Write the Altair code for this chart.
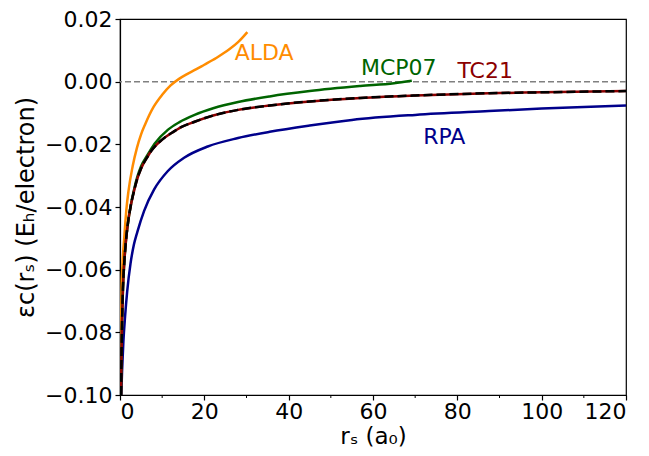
import altair as alt
import pandas as pd

# ---- data ----
rs_tc21 = [0.25, 0.35, 0.5, 0.7, 1.0, 1.4, 1.9, 2.5, 3.4, 4.1, 5.0, 6.6, 7.3, 10.0, 12.9, 14.1,
           17.7, 22.1, 28.0, 35.5, 45.0, 57.0, 70.0, 87.5, 100.0, 120.0]
eps_tc21 = [-0.100, -0.088, -0.076, -0.066, -0.058, -0.051, -0.045, -0.0400, -0.0345, -0.0310,
            -0.0277, -0.0238, -0.0223, -0.0185, -0.0158, -0.0148, -0.0128, -0.0108, -0.0090,
            -0.0076, -0.0063, -0.0052, -0.0044, -0.0037, -0.0034, -0.0030]

rs_exact = rs_tc21
eps_exact = eps_tc21

rs_mcp07 = [0.25, 0.35, 0.5, 0.7, 1.0, 1.4, 1.9, 2.5, 3.4, 4.1, 5.0, 6.6, 8.2, 11.4, 14.1, 17.7,
            22.1, 28.0, 35.5, 45.0, 57.0, 65.0, 69.2]
eps_mcp07 = [-0.100, -0.088, -0.076, -0.066, -0.058, -0.051, -0.045, -0.0398, -0.0340, -0.0304,
             -0.0270, -0.0232, -0.0198, -0.0153, -0.0129, -0.0106, -0.0085, -0.0065, -0.0047,
             -0.0030, -0.0014, -0.0005, 0.0003]

rs_alda = [0.2, 0.35, 0.6, 1.0, 1.5, 2.0, 3.0, 4.0, 5.0, 6.0, 8.0, 10.0, 12.0, 14.0, 16.0, 18.0,
           20.0, 22.0, 24.0, 26.0, 28.0, 30.2]
eps_alda = [-0.085, -0.068, -0.058, -0.050, -0.0410, -0.0350, -0.0270, -0.0212, -0.0168, -0.0135,
            -0.0080, -0.0042, -0.0012, 0.0009, 0.0025, 0.0039, 0.0054, 0.0069, 0.0086, 0.0104,
            0.0126, 0.0158]

rs_rpa = [0.3, 0.5, 0.8, 1.2, 1.7, 2.5, 3.3, 4.1, 5.7, 8.1, 11.3, 15.2, 20.8, 28.0, 35.5, 45.0,
          55.0, 70.0, 87.5, 100.0, 120.0]
eps_rpa = [-0.100, -0.092, -0.083, -0.075, -0.067, -0.058, -0.052, -0.0480, -0.0413, -0.0344,
           -0.0286, -0.0243, -0.0207, -0.0180, -0.0160, -0.0140, -0.0122, -0.0106, -0.0094,
           -0.0086, -0.0076]

label_text = ["ALDA", "MCP07", "TC21", "RPA"]
label_x = [34.2, 66.1, 86.6, 76.9]
label_y = [0.0093, 0.0044, 0.0033, -0.0176]
label_color = ["darkorange", "darkgreen", "darkred", "darkblue"]

x_ticks = [0, 20, 40, 60, 80, 100, 120]
x_minor = [10, 30, 50, 70, 90, 110]
y_ticks = [-0.10, -0.08, -0.06, -0.04, -0.02, 0.00, 0.02]

FONT = "DejaVu Sans"
W, H = 506, 376

xscale = alt.Scale(domain=[0, 120], nice=False, zero=False)
yscale = alt.Scale(domain=[-0.10, 0.02], nice=False, zero=False)
xaxis = alt.Axis(values=x_ticks, format="d", title="rₛ (a₀)", grid=False)
yaxis = alt.Axis(values=y_ticks, format=".2f", title="εc(rₛ) (Eₕ/electron)", grid=False)


def X(field):
    return alt.X(field, type="quantitative", scale=xscale, axis=xaxis)


def Y(field):
    return alt.Y(field, type="quantitative", scale=yscale, axis=yaxis)


def line(rs, eps, color, dash=None, width=2.5):
    df = pd.DataFrame({"rs": rs, "eps": eps, "i": list(range(len(rs)))})
    kw = dict(color=color, strokeWidth=width, clip=True, interpolate="monotone")
    if dash:
        kw["strokeDash"] = dash
    return alt.Chart(df).mark_line(**kw).encode(x=X("rs"), y=Y("eps"), order="i:Q")


zero = alt.Chart(pd.DataFrame({"y": [0.0]})).mark_rule(
    color="gray", strokeDash=[6, 3], strokeWidth=1.5
).encode(y=Y("y"))

minor = alt.Chart(pd.DataFrame({"x": x_minor})).mark_rule(
    color="black", strokeWidth=1
).encode(x=X("x"), y=alt.value(H), y2=alt.value(H + 3))

labels_df = pd.DataFrame({"x": label_x, "y": label_y, "t": label_text, "c": label_color})
labels = alt.Chart(labels_df).mark_text(
    fontSize=22, font=FONT, align="center", baseline="middle"
).encode(
    x=X("x"), y=Y("y"), text="t:N",
    color=alt.Color("c:N", scale=None, legend=None),
)

chart = alt.layer(
    zero,
    line(rs_alda, eps_alda, "darkorange"),
    line(rs_rpa, eps_rpa, "darkblue"),
    line(rs_mcp07, eps_mcp07, "darkgreen"),
    line(rs_tc21, eps_tc21, "darkred"),
    line(rs_exact, eps_exact, "black", dash=[9, 4]),
    minor,
    labels,
).properties(
    width=W,
    height=H,
    autosize=alt.AutoSizeParams(type="none"),
    padding={"left": 112, "top": 11, "right": 15, "bottom": 53},
).configure_view(
    stroke="black", strokeWidth=1.2
).configure_axis(
    labelFont=FONT, labelFontSize=22, labelColor="black",
    titleFont=FONT, titleFontSize=24, titleFontWeight="normal", titleColor="black",
    domainColor="black", domainWidth=1.2, tickColor="black", tickSize=5, tickWidth=1.2,
    labelPadding=3,
).configure_axisX(titlePadding=3, labelPadding=1, titleFontSize=23).configure_axisY(titlePadding=6)

chart.save("out.html", embed_options={"renderer": "svg", "actions": False})
